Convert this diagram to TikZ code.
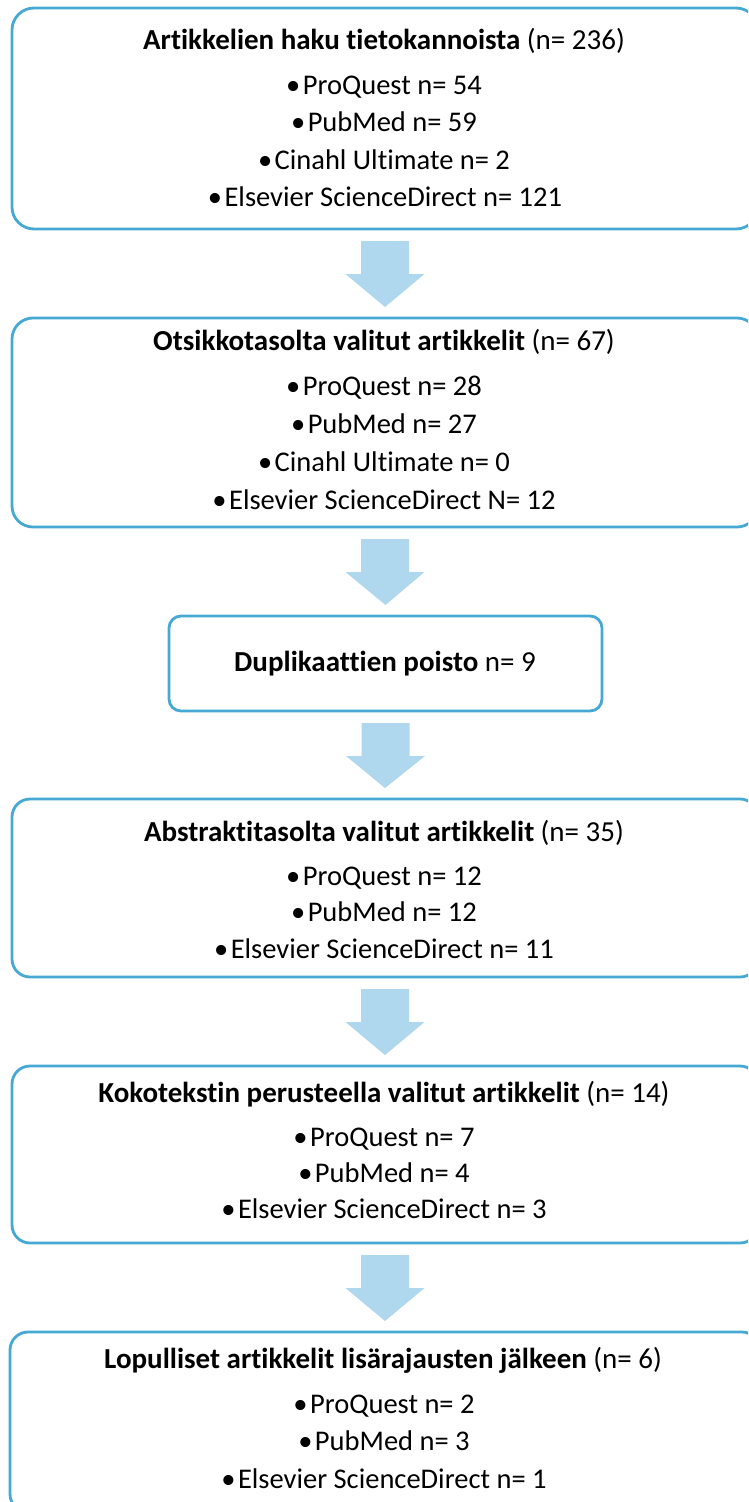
\documentclass[tikz,border=0pt]{standalone}
\usepackage{fontspec}
\setmainfont{Carlito}[Ligatures={NoCommon,NoContextual}]
\usetikzlibrary{calc}
\definecolor{boxblue}{HTML}{45A9D3}
\definecolor{arrowblue}{HTML}{AFD7ED}
\tikzset{
  flowbox/.style={draw=boxblue, line width=2.8pt, fill=white, inner sep=0pt, outer sep=0pt},
  titletext/.style={anchor=base, inner sep=0pt, font=\fontsize{29}{34}\selectfont},
  itemtext/.style={anchor=base, inner sep=0pt, font=\fontsize{28.5}{34}\selectfont},
  blockarrow/.style={fill=arrowblue, draw=none},
}
\newcommand{\bul}{•\hspace{2.5pt}}
\newcommand{\flowarrow}[2]{%
  \fill[blockarrow] ($(#1.south)+(-24,12)$) -- ($(#1.south)+(24,12)$)
    -- ($(#1.south)+(24,45)$) -- ($(#1.south)+(39.5,45)$)
    -- ($(#2.north)+(0,-11)$)
    -- ($(#1.south)+(-39.5,45)$) -- ($(#1.south)+(-24,45)$) -- cycle;}
\begin{document}
\begin{tikzpicture}[x=1pt, y=-1pt]
\useasboundingbox (0,0) rectangle (748,1502);
\clip (0,0) rectangle (748,1502);

% boxes
\node[flowbox, rounded corners=22pt, minimum width=746pt, minimum height=221pt] (b1) at (385,118.5) {};
\node[flowbox, rounded corners=21pt, minimum width=746pt, minimum height=209pt] (b2) at (385,422.5) {};
\node[flowbox, rounded corners=12pt, minimum width=433pt, minimum height=95pt] (b3) at (385.5,663.5) {};
\node[flowbox, rounded corners=18pt, minimum width=746pt, minimum height=178pt] (b4) at (385,888) {};
\node[flowbox, rounded corners=18pt, minimum width=746pt, minimum height=177pt] (b5) at (385,1154.5) {};
\node[flowbox, rounded corners=18pt, minimum width=750pt, minimum height=180pt] (b6) at (385,1422) {};

% arrows
\flowarrow{b1}{b2}
\flowarrow{b2}{b3}
\flowarrow{b3}{b4}
\flowarrow{b4}{b5}
\flowarrow{b5}{b6}

% box 1
\node[titletext] (t1) at (384,49) {\textbf{Artikkelien haku tietokannoista} (n= 236)};
\node[itemtext] (t1a) at (384,94) {\bul ProQuest n= 54};
\node[itemtext] (t1b) at (384,131.5) {\bul PubMed n= 59};
\node[itemtext] (t1c) at (384,169) {\bul Cinahl Ultimate n= 2};
\node[itemtext] (t1d) at (385,206.5) {\bul Elsevier ScienceDirect n= 121};

% box 2
\node[titletext] (t2) at (384,350) {\textbf{Otsikkotasolta valitut artikkelit} (n= 67)};
\node[itemtext] (t2a) at (384,395.5) {\bul ProQuest n= 28};
\node[itemtext] (t2b) at (384,433.5) {\bul PubMed n= 27};
\node[itemtext] (t2c) at (384,471.5) {\bul Cinahl Ultimate n= 0};
\node[itemtext] (t2d) at (384,509) {\bul Elsevier ScienceDirect N= 12};

% box 3
\node[titletext] (t3) at (385,671.7) {\textbf{Duplikaattien poisto} n= 9};

% box 4
\node[titletext] (t4) at (384,841.5) {\textbf{Abstraktitasolta valitut artikkelit} (n= 35)};
\node[itemtext] (t4a) at (384,885.5) {\bul ProQuest n= 12};
\node[itemtext] (t4b) at (384,921.5) {\bul PubMed n= 12};
\node[itemtext] (t4c) at (384,958) {\bul Elsevier ScienceDirect n= 11};

% box 5
\node[titletext] (t5) at (384,1102.5) {\textbf{Kokotekstin perusteella valitut artikkelit} (n= 14)};
\node[itemtext] (t5a) at (384,1146.5) {\bul ProQuest n= 7};
\node[itemtext] (t5b) at (384,1182) {\bul PubMed n= 4};
\node[itemtext] (t5c) at (384,1218.5) {\bul Elsevier ScienceDirect n= 3};

% box 6
\node[titletext] (t6) at (383,1368) {\textbf{Lopulliset artikkelit lisärajausten jälkeen} (n= 6)};
\node[itemtext] (t6a) at (384,1413) {\bul ProQuest n= 2};
\node[itemtext] (t6b) at (384,1450) {\bul PubMed n= 3};
\node[itemtext] (t6c) at (384,1488) {\bul Elsevier ScienceDirect n= 1};
\end{tikzpicture}
\end{document}
